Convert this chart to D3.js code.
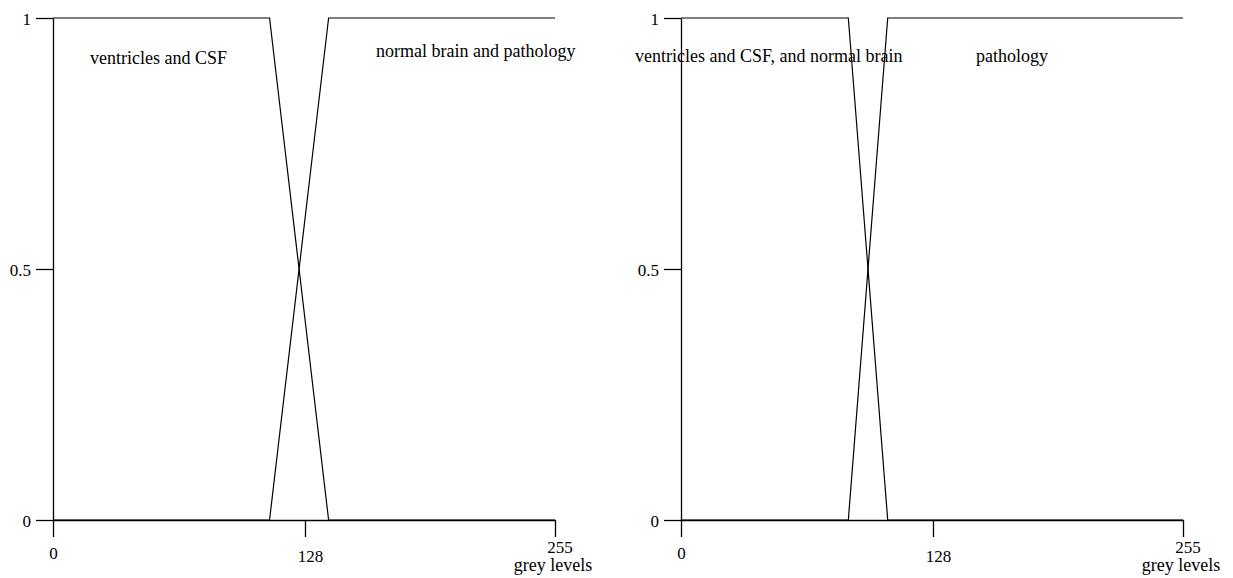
<!DOCTYPE html>
<html><head><meta charset="utf-8">
<script src="https://cdn.jsdelivr.net/npm/d3@7"></script>
<style>
html,body{margin:0;padding:0;background:#fff;}
svg text{font-family:"Liberation Serif",Tinos,"Times New Roman",Times,serif;fill:#000;}
</style></head>
<body>
<svg id="chart" width="1233" height="578"></svg>
<script>
// Data
const xTicks = [0, 128, 255];
const yTicks = [0, 0.5, 1];
const xTickLabels = ["0", "128", "255"];
const yTickLabels = ["0", "0.5", "1"];
const xAxisTitle = "grey levels";

// Left panel membership functions (grey level, membership)
const leftFalling = [[0, 1], [110, 1], [140, 0], [255, 0]];
const leftRising  = [[0, 0], [110, 0], [140, 1], [255, 1]];
const leftLabels  = ["ventricles and CSF", "normal brain and pathology"];

// Right panel membership functions
const rightFalling = [[0, 1], [85, 1], [105, 0], [255, 0]];
const rightRising  = [[0, 0], [85, 0], [105, 1], [255, 1]];
const rightLabels  = ["ventricles and CSF, and normal brain", "pathology"];

const svg = d3.select("#chart");
const W = 502, H = 502;

function panel(ox, oy, falling, rising, labels, labelPos) {
  const g = svg.append("g").attr("transform", `translate(${ox},${oy})`);
  const x = d3.scaleLinear().domain([0, 255]).range([0, W]);
  const y = d3.scaleLinear().domain([0, 1]).range([H, 0]);

  const ya = g.append("g").call(d3.axisLeft(y).tickValues(yTicks)
      .tickFormat((d, i) => yTickLabels[i]).tickSize(17).tickSizeOuter(0).tickPadding(5));
  const xa = g.append("g").attr("transform", `translate(0,${H})`)
    .call(d3.axisBottom(x).tickValues(xTicks)
      .tickFormat((d, i) => xTickLabels[i]).tickSize(17).tickSizeOuter(0));
  [ya, xa].forEach(a => {
    a.attr("font-family", null).attr("font-size", null);
    a.selectAll("path,line").attr("stroke", "#000").attr("stroke-width", 1.3);
    a.selectAll("text").attr("fill", "#000").style("font-size", "17px");
  });
  ya.selectAll(".tick text").attr("dy", "0.38em");
  const xLabelY = [38.5, 42, 32.5];
  const xLabelDx = [0, 5, 4.5];
  xa.selectAll(".tick text").attr("dy", null).attr("y", (d, i) => xLabelY[i]).attr("dx", (d, i) => xLabelDx[i]);
  xa.append("text").attr("x", x(255) - 2).attr("y", 51).attr("text-anchor", "middle")
    .style("font-size", "18px").text(xAxisTitle);

  const line = d3.line().x(d => x(d[0])).y(d => y(d[1]));
  [falling, rising].forEach(s => {
    g.append("path").datum(s).attr("d", line).attr("fill", "none")
      .attr("stroke", "#000").attr("stroke-width", 1.2);
  });

  labels.forEach((t, i) => {
    g.append("text").attr("x", x(labelPos[i][0])).attr("y", y(labelPos[i][1]))
      .style("font-size", "18px").text(t);
  });
}

panel(53, 18, leftFalling, leftRising, leftLabels, [[18.8, 0.9084], [164.1, 0.923]]);
panel(681, 18, rightFalling, rightRising, rightLabels, [[-23.4, 0.913], [149.9, 0.913]]);
</script>
</body></html>
